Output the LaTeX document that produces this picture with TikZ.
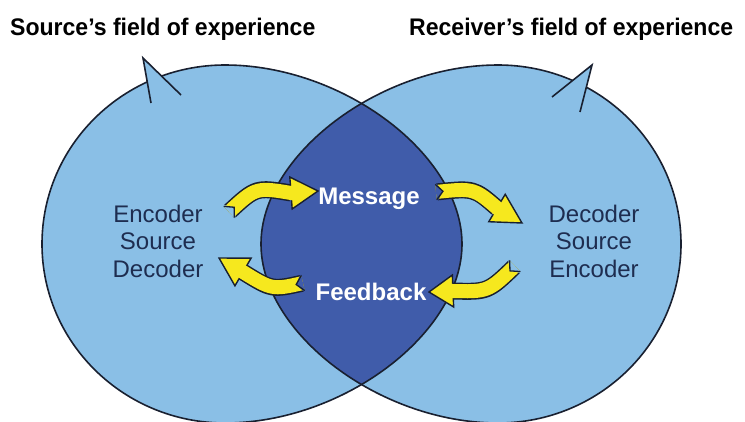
\documentclass[tikz,border=0pt]{standalone}
\usepackage{fontspec}
\setmainfont{Liberation Sans}
\newfontfamily\titlefont[FakeStretch=0.96,Ligatures=TeX]{Liberation Sans}
\usetikzlibrary{calc}
\definecolor{lightfield}{RGB}{138,191,230}
\definecolor{lensblue}{RGB}{64,92,170}
\definecolor{outline}{RGB}{25,32,48}
\definecolor{textnavy}{RGB}{30,45,80}
\definecolor{arrowyellow}{RGB}{246,232,30}
\newcommand\leftfield{(42,244) .. controls (42,145) and (124,65) .. (225,65) .. controls (343.5,65) and (462,155) .. (462,244) .. controls (462,333) and (343.5,423) .. (225,423) .. controls (124,423) and (42,343) .. cycle}
\newcommand\rightfield{(681,244) .. controls (681,145) and (599,65) .. (498,65) .. controls (379.5,65) and (261,155) .. (261,244) .. controls (261,333) and (379.5,423) .. (498,423) .. controls (599,423) and (681,343) .. cycle}
\newcommand\yellowarrow[5]{%
  \draw[arrowrim] (#1) .. controls (#2) .. (#3);
  \filldraw[arrowhead] ($(#3)!16pt!90:(#4)$) -- (#4) -- ($(#3)!16pt!-90:(#4)$) -- cycle;
  \draw[arrowcore] (#1) .. controls (#2) .. ($(#3)!-3pt!(#2)$);
  \fill[#5] ($(#1)!10pt!90:(#2)$) -- ($(#1)!7pt!(#2)$) -- ($(#1)!10pt!-90:(#2)$) -- cycle;
  \draw[outline, line width=1.3pt] ($(#1)!7.7pt!90:(#2)$) -- ($(#1)!7pt!(#2)$) -- ($(#1)!7.7pt!-90:(#2)$);
}
\begin{document}
\begin{tikzpicture}[x=1pt,y=-1pt,
  fieldline/.style={draw=outline, line width=1.6pt},
  arrowrim/.style={draw=outline, line width=17pt},
  arrowcore/.style={draw=arrowyellow, line width=14pt},
  arrowhead/.style={fill=arrowyellow, draw=outline, line width=1.4pt, line join=miter},
  titletext/.style={font=\titlefont\bfseries\fontsize{24}{28}\selectfont, text=black, inner sep=0pt, anchor=base west},
  fieldtext/.style={font=\fontsize{24}{27.5}\selectfont, text=textnavy, align=center, inner sep=0pt},
  lenstext/.style={font=\bfseries\fontsize{24}{28}\selectfont, text=white, inner sep=0pt, anchor=base}]
\useasboundingbox (0,0) rectangle (745,421);
\fill[white] (0,0) rectangle (745,421);
% fields
\fill[lightfield] \leftfield;
\fill[lightfield] \rightfield;
\begin{scope}
  \clip \leftfield;
  \fill[lensblue] \rightfield;
\end{scope}
\draw[fieldline] \leftfield;
\draw[fieldline] \rightfield;
% callouts
\coordinate (ltip) at (143,58);
\coordinate (lbase1) at (151,103);
\coordinate (lbase2) at (181,95);
\fill[lightfield] (ltip) -- (lbase1) -- (lbase2) -- cycle;
\draw[fieldline] (lbase1) -- (ltip) -- (lbase2);
\coordinate (rtip) at (592,65);
\coordinate (rbase1) at (552,97);
\coordinate (rbase2) at (580,112);
\fill[lightfield] (rtip) -- (rbase1) -- (rbase2) -- cycle;
\draw[fieldline] (rbase1) -- (rtip) -- (rbase2);
% titles
\node[titletext] (srctitle) at (10,35) {Source’s field of experience};
\node[titletext] (rcvtitle) at (409,35) {Receiver’s field of experience};
% texts
\node[fieldtext] (source) at (158,241) {Encoder\\Source\\Decoder};
\node[fieldtext] (receiver) at (594,241) {Decoder\\Source\\Encoder};
\node[lenstext] (message) at (369,204) {Message};
\node[lenstext] (feedback) at (371,300) {Feedback};
% arrows
\coordinate (a1t) at (229,212); \coordinate (a1c) at (256,187); \coordinate (a1b) at (291,193); \coordinate (a1p) at (318,191);
\coordinate (a2t) at (436,192); \coordinate (a2c) at (474,188); \coordinate (a2b) at (497,208); \coordinate (a2p) at (522,223);
\coordinate (a3t) at (515,266); \coordinate (a3c) at (488,292); \coordinate (a3b) at (453,291); \coordinate (a3p) at (429,292);
\coordinate (a4t) at (303,283); \coordinate (a4c) at (272,290); \coordinate (a4b) at (243,272); \coordinate (a4p) at (219,258);
\yellowarrow{a1t}{a1c}{a1b}{a1p}{lightfield}
\yellowarrow{a2t}{a2c}{a2b}{a2p}{lensblue}
\yellowarrow{a3t}{a3c}{a3b}{a3p}{lightfield}
\yellowarrow{a4t}{a4c}{a4b}{a4p}{lensblue}
\end{tikzpicture}
\end{document}
